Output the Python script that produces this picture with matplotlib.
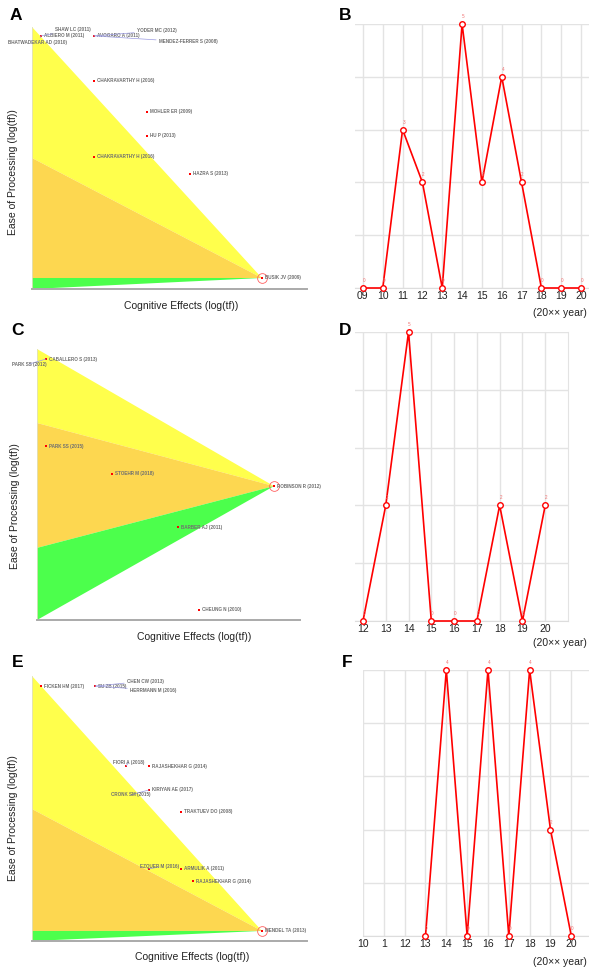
import numpy as np
import matplotlib
matplotlib.use('Agg')
import matplotlib.pyplot as plt
from matplotlib.patches import Polygon

plt.rcParams['font.family'] = ['Liberation Sans', 'DejaVu Sans']

W, H = 589, 969

# ---- data: panel A (cognitive effects vs ease of processing, normalised log(tf)) ----
a_names = ['ALBIERO M (2011)', 'SHAW LC (2011)', 'BHATWADEKAR AD (2010)', 'AVOGARO A (2011)',
           'YODER MC (2012)', 'MENDEZ-FERRER S (2008)', 'CHAKRAVARTHY H (2016)', 'MOHLER ER (2009)',
           'HU P (2013)', 'CHAKRAVARTHY H (2016)', 'HAZRA S (2013)', 'BUSIK JV (2009)']
a_x = [0.033, 0.033, 0.033, 0.225, 0.225, 0.225, 0.225, 0.418, 0.418, 0.225, 0.575, 0.836]
a_y = [0.966, 0.966, 0.966, 0.966, 0.966, 0.966, 0.794, 0.676, 0.584, 0.504, 0.439, 0.042]
a_apex = (0.836, 0.042)
a_orange_top = 0.50
a_yellow_bottom = 0.042

# ---- panel C ----
c_names = ['CABALLERO S (2013)', 'PARK SS (2012)', 'PARK SS (2015)', 'STOEHR M (2018)',
           'ROBINSON R (2012)', 'BARBER AJ (2011)', 'CHEUNG N (2010)']
c_x = [0.034, 0.034, 0.034, 0.285, 0.901, 0.536, 0.616]
c_y = [0.963, 0.963, 0.642, 0.539, 0.494, 0.343, 0.037]
c_apex = (0.901, 0.494)
c_orange_top = 0.727
c_yellow_bottom = 0.266

# ---- panel E ----
e_names = ['FICKEN HM (2017)', 'SU ZB (2015)', 'CHEN CW (2013)', 'HERRMANN M (2016)',
           'FIORI A (2018)', 'RAJASHEKHAR G (2014)', 'KIRIYAN AE (2017)', 'CRONK SM (2015)',
           'TRAKTUEV DO (2008)', 'EZQUER M (2016)', 'ARMULIK A (2011)', 'RAJASHEKHAR G (2014)',
           'MENDEL TA (2013)']
e_x = [0.033, 0.229, 0.229, 0.229, 0.342, 0.425, 0.425, 0.425, 0.542, 0.425, 0.542, 0.585, 0.836]
e_y = [0.962, 0.962, 0.962, 0.962, 0.660, 0.660, 0.570, 0.570, 0.487, 0.272, 0.272, 0.226, 0.038]
e_apex = (0.836, 0.038)
e_orange_top = 0.498
e_yellow_bottom = 0.038

# ---- yearly counts ----
b_years = ['09', '10', '11', '12', '13', '14', '15', '16', '17', '18', '19', '20']
b_counts = [0, 0, 3, 2, 0, 5, 2, 4, 2, 0, 0, 0]
b_labels = ['0', '0', '3', '2', '0', '5', '2', '4', '2', '0', '0', '0']

d_years = ['12', '13', '14', '15', '16', '17', '18', '19', '20']
d_counts = [0, 2, 5, 0, 0, 0, 2, 0, 2]
d_labels = ['0', '2', '5', '0', '0', '0', '2', '0', '2']

f_years = ['10', '1', '12', '13', '14', '15', '16', '17', '18', '19', '20']
f_counts = [np.nan, np.nan, np.nan, 0, 5, 0, 5, 0, 5, 2, 0]
f_labels = ['', '', '', '0', '4', '0', '4', '0', '4', '2', '0']

# label offsets (pixels) for labels that sit away from their point
a_off = {1: (14, 6), 2: (-33, -7), 4: (43, 5), 5: (65, -6)}
c_off = {1: (-34, -5)}
e_off = {2: (32, 5), 3: (35, -4), 4: (-13, 4), 7: (-38, -5), 9: (-9, 2)}

fig = plt.figure(figsize=(W / 100, H / 100), dpi=100)


def px_axes(l, t, r, b):
    return fig.add_axes([l / W, 1 - b / H, (r - l) / W, (b - t) / H])


def triangle_panel(box, names, xs, ys, apex, orange_top, yellow_bottom, offs):
    ax = px_axes(*box)
    ax.set_xlim(0, 1)
    ax.set_ylim(0, 1)
    ax.add_patch(Polygon([(0, 1), apex, (0, orange_top)], closed=True, fc='#ffff4c', ec='none'))
    ax.add_patch(Polygon([(0, orange_top), apex, (0, yellow_bottom)], closed=True, fc='#fdd750', ec='none'))
    ax.add_patch(Polygon([(0, yellow_bottom), apex, (0, 0)], closed=True, fc='#4cff4c', ec='none'))
    ax.plot(xs, ys, 's', color='red', ms=1.6, mew=0, zorder=4, clip_on=False)
    ax.plot(apex[0], apex[1], 'o', ms=7, mfc='none', mec='#ff6060', mew=0.6, zorder=4, clip_on=False)
    for i, (n, x, y) in enumerate(zip(names, xs, ys)):
        dx, dy = offs.get(i, (3, 0))
        arrow = None
        if i in offs:
            arrow = dict(arrowstyle='-', color='#9a9ae0', lw=0.5, shrinkA=0, shrinkB=0)
        ax.annotate(n, (x, y), xytext=(dx, dy), textcoords='offset pixels', fontsize=3.3,
                    fontweight='bold', color='#707070', ha='left', va='center',
                    annotation_clip=False, arrowprops=arrow, zorder=5)
    for s in ['top', 'right']:
        ax.spines[s].set_visible(False)
    ax.spines['bottom'].set_color('#aaaaaa')
    ax.spines['bottom'].set_linewidth(1.4)
    ax.spines['left'].set_color('#e0e0c0')
    ax.spines['left'].set_linewidth(0.6)
    ax.set_xticks([])
    ax.set_yticks([])
    return ax


def line_panel(box, xlim, years, counts, labels, right_spine=False):
    ax = px_axes(*box)
    x = np.arange(len(years))
    ax.plot(x, counts, color='red', lw=1.2, marker='o', ms=4, mfc='white', mec='red',
            mew=1, zorder=3, clip_on=False)
    for xi, v, t in zip(x, counts, labels):
        if not np.isnan(v):
            ax.annotate(t, (xi, v), xytext=(1, 5), textcoords='offset pixels', fontsize=3.3,
                        color='#f07070', ha='center', va='bottom', annotation_clip=False)
    ax.set_xlim(*xlim)
    ax.set_ylim(0, 5)
    ax.set_xticks(x, years)
    ax.set_yticks(range(6))
    ax.set_yticklabels([])
    ax.tick_params(length=0, labelsize=7.5, pad=2, colors='#222222')
    ax.grid(color='#e3e3e3', lw=1)
    ax.set_axisbelow(True)
    for s in ['top', 'left', 'right']:
        ax.spines[s].set_visible(False)
    ax.spines['bottom'].set_color('#dddddd')
    if right_spine:
        ax.spines['right'].set_visible(True)
        ax.spines['right'].set_color('#e3e3e3')
    return ax


triangle_panel((32, 27, 307, 289), a_names, a_x, a_y, a_apex, a_orange_top, a_yellow_bottom, a_off)
triangle_panel((37, 349, 300, 620), c_names, c_x, c_y, c_apex, c_orange_top, c_yellow_bottom, c_off)
triangle_panel((32, 676, 307, 941), e_names, e_x, e_y, e_apex, e_orange_top, e_yellow_bottom, e_off)

line_panel((355, 24, 589, 288), (-0.4, 11.4), b_years, b_counts, b_labels)
line_panel((355, 332, 568, 621), (-0.35, 9.0), d_years, d_counts, d_labels, right_spine=True)
line_panel((363, 670, 589, 936), (0, 10.85), f_years, f_counts, f_labels)


def ftext(x, y, s, **kw):
    fig.text(x / W, 1 - y / H, s, **kw)


for (x, y) in [(181, 306), (194, 637), (192, 957)]:
    ftext(x, y, 'Cognitive Effects (log(tf))', fontsize=7.5, ha='center', va='center', color='#222222')
for (x, y) in [(13, 172), (15, 506), (13, 818)]:
    ftext(x, y, 'Ease of Processing (log(tf))', fontsize=7.5, ha='center', va='center',
          rotation=90, color='#222222')
for (x, y) in [(587, 313), (587, 643), (587, 962)]:
    ftext(x, y, '(20\u00d7\u00d7 year)', fontsize=7.5, ha='right', va='center', color='#222222')

for letter, x, y in [('A', 10, 8), ('B', 339, 8), ('C', 11, 323), ('D', 339, 323),
                     ('E', 12, 655), ('F', 342, 655)]:
    ftext(x, y, letter, fontsize=12.5, fontweight='bold', ha='left', va='top')

fig.savefig('out.png', dpi=100)
